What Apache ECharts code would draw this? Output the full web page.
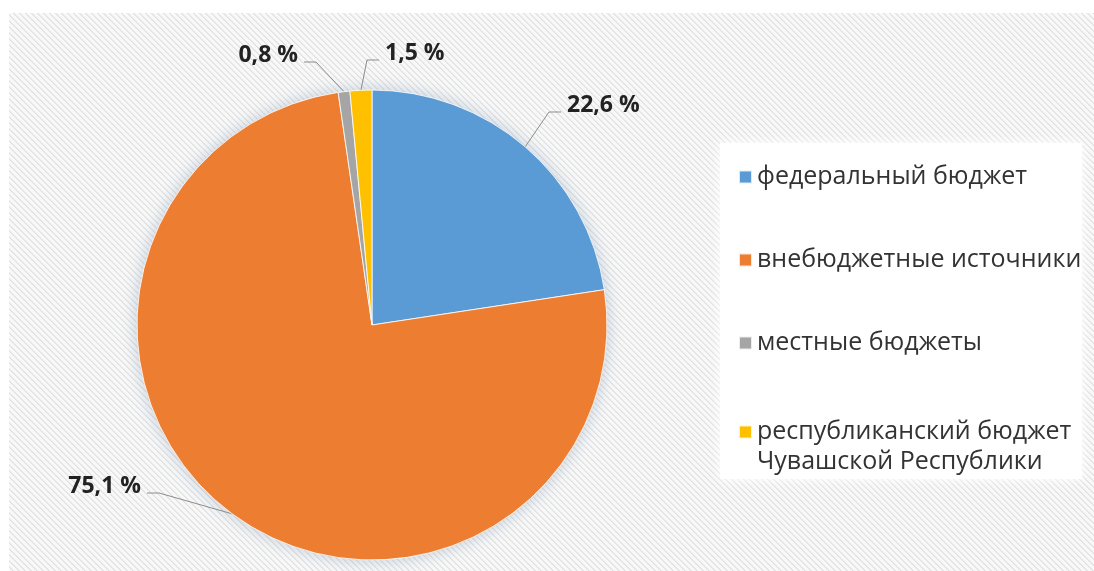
<!DOCTYPE html>
<html>
<head>
<meta charset="utf-8">
<script src="https://cdn.jsdelivr.net/npm/echarts@6/dist/echarts.min.js"></script>
<style>
  html, body { margin: 0; padding: 0; background: #ffffff; }
  #chart { width: 1094px; height: 571px; }
</style>
</head>
<body>
<div id="chart"></div>
<script>
// Funding sources, shares in percent
const categories = [
  'федеральный бюджет',
  'внебюджетные источники',
  'местные бюджеты',
  'республиканский бюджет\nЧувашской Республики'
];
const shares = [22.6, 75.1, 0.8, 1.5];
const sliceColors = ['#5B9BD5', '#ED7D31', '#A5A5A5', '#FFC000'];

// Geometry of the pie and where each value label sits
const PIE_CENTER = [372, 325];
const PIE_RADIUS = 235;
const labelSpots = [
  { x: 567, y: 105, align: 'left' },
  { x: 141, y: 486, align: 'right' },
  { x: 298, y: 55, align: 'right' },
  { x: 385, y: 53, align: 'left' }
];

// Diagonal hatch tile for the plot backdrop
function makeHatchTile() {
  const size = 6;
  const c = document.createElement('canvas');
  c.width = size; c.height = size;
  const ctx = c.getContext('2d');
  const img = ctx.createImageData(size, size);
  for (let y = 0; y < size; y++) {
    for (let x = 0; x < size; x++) {
      const k = ((x - y) % size + size) % size;
      const v = k === 0 ? 224 : (k === 1 ? 234 : 248);
      const i = (y * size + x) * 4;
      img.data[i] = v; img.data[i + 1] = v; img.data[i + 2] = v; img.data[i + 3] = 255;
    }
  }
  ctx.putImageData(img, 0, 0);
  return c;
}

const fmtShare = v => v.toFixed(1).replace('.', ',') + ' %';

const chart = echarts.init(document.getElementById('chart'), null, { renderer: 'canvas' });

const pieData = categories.map((name, i) => ({
  name: name,
  value: shares[i],
  itemStyle: { color: sliceColors[i] }
}));

const legendText = {
  fontFamily: '"Open Sans", "Noto Sans", sans-serif',
  fontSize: 25,
  color: '#333333',
  lineHeight: 30
};

chart.setOption({
  backgroundColor: '#ffffff',
  animation: false,
  graphic: [
    {
      type: 'rect',
      z: 0,
      silent: true,
      shape: { x: 9, y: 13, width: 1085, height: 558 },
      style: { fill: { image: makeHatchTile(), repeat: 'repeat' } }
    },
    {
      type: 'rect',
      z: 1,
      silent: true,
      shape: { x: 720, y: 143, width: 362, height: 336 },
      style: { fill: '#ffffff', shadowBlur: 10, shadowColor: 'rgba(255,255,255,1)' }
    }
  ],
  legend: [
    {
      data: categories.slice(0, 3),
      orient: 'vertical',
      left: 738,
      top: 162,
      padding: 0,
      itemGap: 53,
      itemWidth: 13,
      itemHeight: 13,
      icon: 'rect',
      selectedMode: false,
      textStyle: legendText
    },
    {
      // two-line entry: a blank leading line keeps the swatch level with the first line
      data: categories.slice(3),
      orient: 'vertical',
      left: 738,
      top: 387,
      padding: 0,
      itemWidth: 13,
      itemHeight: 13,
      icon: 'rect',
      selectedMode: false,
      formatter: name => '\n' + name,
      textStyle: legendText
    }
  ],
  series: [
    {
      // soft glow disc behind the slices
      type: 'pie',
      silent: true,
      z: 1,
      center: PIE_CENTER,
      radius: PIE_RADIUS,
      label: { show: false },
      labelLine: { show: false },
      data: [{
        value: 1, name: '',
        itemStyle: { color: '#ffffff', shadowBlur: 16, shadowColor: 'rgba(120,150,185,0.45)' }
      }]
    },
    {
      type: 'pie',
      z: 2,
      center: PIE_CENTER,
      radius: PIE_RADIUS,
      startAngle: 90,
      clockwise: true,
      avoidLabelOverlap: false,
      itemStyle: { borderColor: 'rgba(255,255,255,0.8)', borderWidth: 1 },
      emphasis: { disabled: true },
      label: {
        show: true,
        position: 'outside',
        formatter: p => fmtShare(p.value),
        fontFamily: '"Open Sans", "Noto Sans", sans-serif',
        fontWeight: 'bold',
        fontSize: 23,
        color: '#222222'
      },
      labelLine: {
        show: true,
        length: 20,
        length2: 12,
        lineStyle: { color: '#8c8c8c', width: 1 }
      },
      labelLayout: function (p) {
        const spot = labelSpots[p.dataIndex];
        const dir = spot.align === 'left' ? -1 : 1;
        const lineY = spot.y + 7;
        const endX = spot.x + dir * 6;
        const elbowX = endX + dir * 12;
        const out = { x: spot.x, y: spot.y, align: spot.align, verticalAlign: 'middle' };
        if (p.labelLinePoints && p.labelLinePoints[0]) {
          out.labelLinePoints = [p.labelLinePoints[0], [elbowX, lineY], [endX, lineY]];
        }
        return out;
      },
      data: pieData
    }
  ]
});
</script>
</body>
</html>
